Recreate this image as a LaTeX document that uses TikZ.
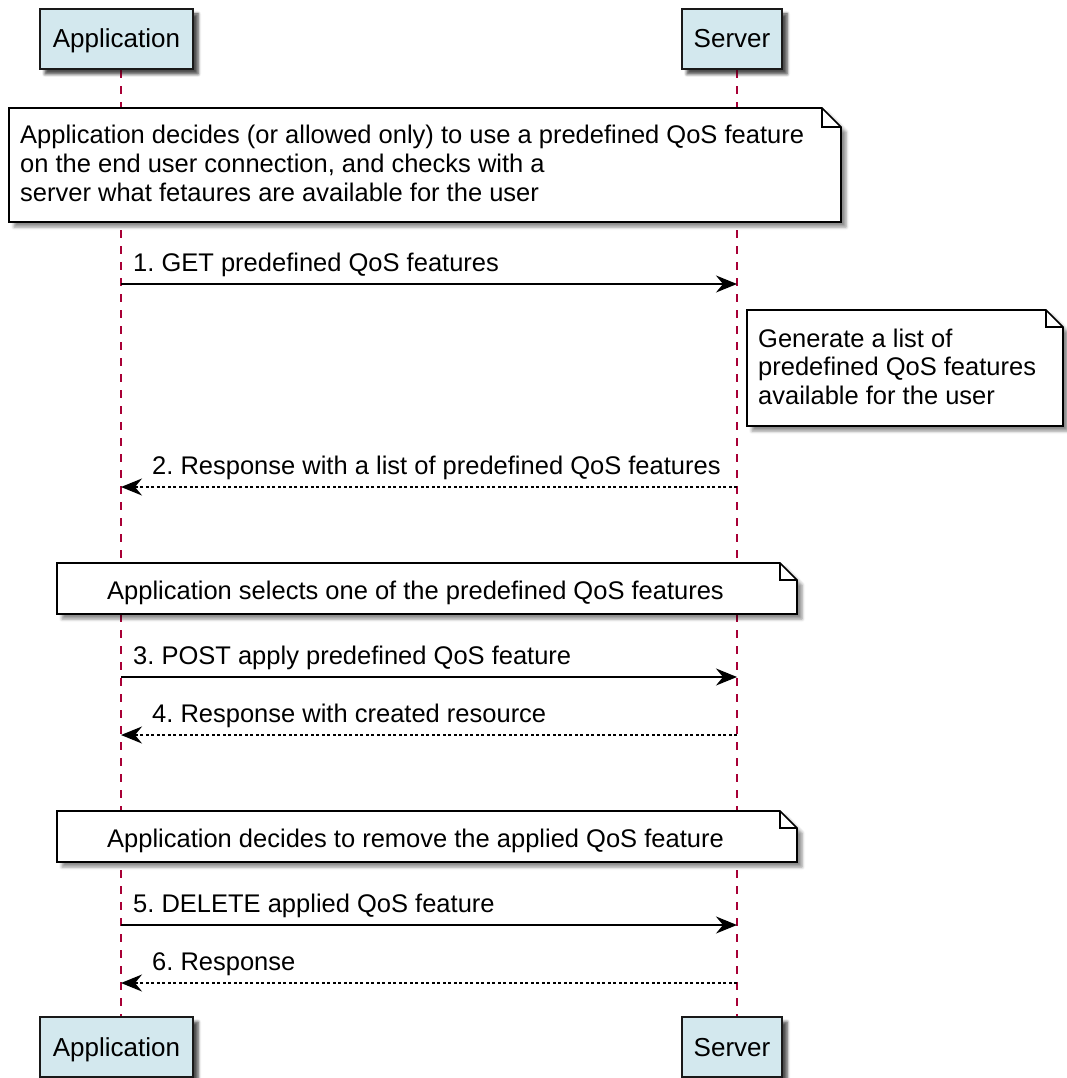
\documentclass[tikz,border=0pt]{standalone}
\usepackage{fontspec}
\setmainfont{Liberation Sans}
\usetikzlibrary{arrows.meta,shadows.blur}
\frenchspacing
\definecolor{partfill}{RGB}{211,232,238}
\definecolor{lifecol}{RGB}{168,0,54}
\tikzset{
  participant/.style={draw=black!90, line width=2.2pt, fill=partfill, minimum height=60pt,
    inner sep=0pt, text height=18pt, text depth=0pt, font=\fontsize{26}{30}\selectfont,
    blur shadow={shadow xshift=5pt, shadow yshift=-5pt, shadow blur radius=3pt, shadow opacity=45}},
  lifeline/.style={draw=lifecol, line width=1.5pt, dash pattern=on 8pt off 8pt},
  msg/.style={draw=black, line width=1.7pt, -{Stealth[length=21pt,width=17pt,inset=7pt]}},
  reply/.style={msg, dash pattern=on 3pt off 2.5pt},
  msglabel/.style={anchor=base west, inner sep=0pt, font=\fontsize{25.5}{29}\selectfont},
  notetext/.style={anchor=base west, inner sep=0pt, align=left, font=\fontsize{25.5}{28.8}\selectfont},
  noteshape/.style={draw=black, line width=1.6pt, fill=white,
    blur shadow={shadow xshift=5pt, shadow yshift=-5pt, shadow blur radius=3pt, shadow opacity=45}},
  notefold/.style={draw=black, line width=1.6pt, line join=miter},
}
% note with folded corner: #1 left, #2 top, #3 right, #4 bottom, #5 fold
\newcommand{\mynote}[5]{%
  \path[noteshape] (#1,#2) -- (#3-#5,#2) -- (#3,#2+#5) -- (#3,#4) -- (#1,#4) -- cycle;
  \draw[notefold] (#3-#5,#2) -- (#3-#5,#2+#5) -- (#3,#2+#5);
}
\begin{document}
\begin{tikzpicture}[x=1pt,y=-1pt]
\useasboundingbox (0,0) rectangle (1066,1078);

% lanes
\coordinate (laneA) at (121,0);
\coordinate (laneS) at (737,0);

% participants (placement and names)
\node[participant, minimum width=153pt] (appTop) at (116.5,39) {Application};
\node[participant, minimum width=100pt] (srvTop) at (732,39) {Server};
\node[participant, minimum width=153pt] (appBot) at (116.5,1047) {Application};
\node[participant, minimum width=100pt] (srvBot) at (732,1047) {Server};

% lifelines
\draw[lifeline] (appTop.south -| laneA) -- (appBot.north -| laneA);
\draw[lifeline] (srvTop.south -| laneS) -- (srvBot.north -| laneS);

% note 1
\mynote{9}{108}{841}{222}{19}
\node[notetext] (n1) at (20,201.6) {Application decides (or allowed only) to use a predefined QoS feature\\on the end user connection, and checks with a\\server what fetaures are available for the user};

% message 1
\coordinate (a1) at (121,284); \coordinate (s1) at (737,284);
\draw[msg] (a1) -- (s1);
\node[msglabel] (m1) at (133,271) {1. GET predefined QoS features};

% note 2
\mynote{747}{310}{1063}{426}{17}
\node[notetext] (n2) at (758,404.6) {Generate a list of\\predefined QoS features\\available for the user};

% message 2
\coordinate (a2) at (121,487); \coordinate (s2) at (737,487);
\draw[reply] (s2) -- (a2);
\node[msglabel] (m2) at (152,474) {2. Response with a list of predefined QoS features};

% note 3
\mynote{57}{563}{797}{614}{17}
\node[notetext] (n3) at (107,599) {Application selects one of the predefined QoS features};

% message 3
\coordinate (a3) at (121,677); \coordinate (s3) at (737,677);
\draw[msg] (a3) -- (s3);
\node[msglabel] (m3) at (133,664) {3. POST apply predefined QoS feature};

% message 4
\coordinate (a4) at (121,735); \coordinate (s4) at (737,735);
\draw[reply] (s4) -- (a4);
\node[msglabel] (m4) at (152,722) {4. Response with created resource};

% note 4
\mynote{57}{811}{797}{862}{17}
\node[notetext] (n4) at (107,847) {Application decides to remove the applied QoS feature};

% message 5
\coordinate (a5) at (121,925); \coordinate (s5) at (737,925);
\draw[msg] (a5) -- (s5);
\node[msglabel] (m5) at (133,912) {5. DELETE applied QoS feature};

% message 6
\coordinate (a6) at (121,983); \coordinate (s6) at (737,983);
\draw[reply] (s6) -- (a6);
\node[msglabel] (m6) at (152,970) {6. Response};

% participants drawn over the lifeline ends
\node[participant, minimum width=153pt] at (appTop) {Application};
\node[participant, minimum width=100pt] at (srvTop) {Server};
\node[participant, minimum width=153pt] at (appBot) {Application};
\node[participant, minimum width=100pt] at (srvBot) {Server};
\end{tikzpicture}
\end{document}
